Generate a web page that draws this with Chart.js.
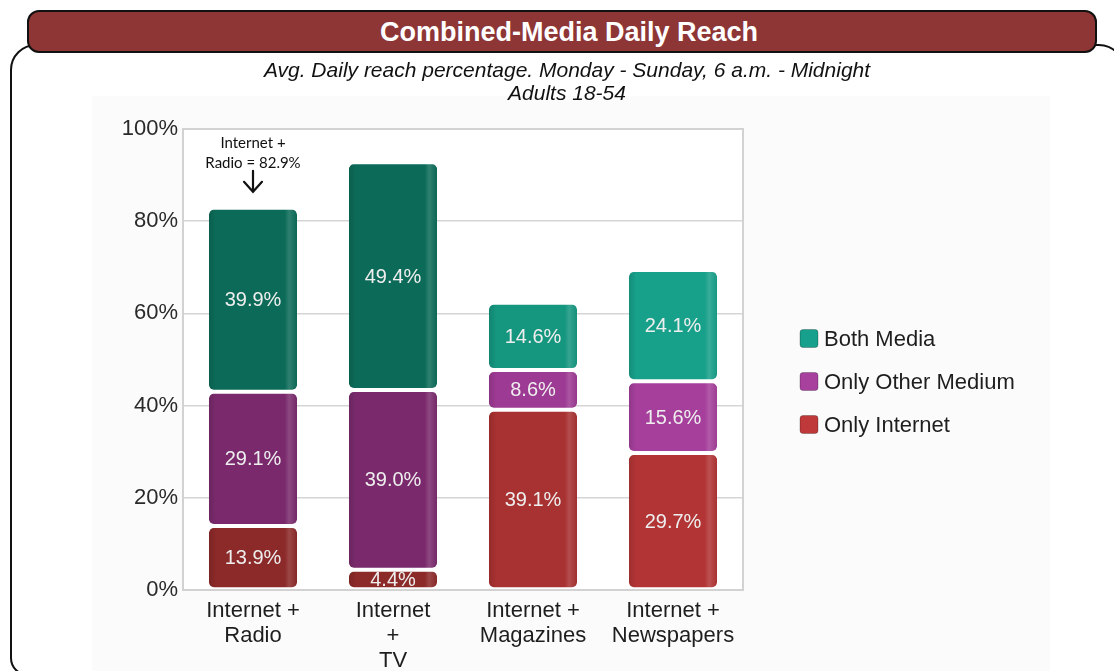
<!DOCTYPE html>
<html>
<head>
<meta charset="utf-8">
<title>Combined-Media Daily Reach</title>
<script src="https://cdn.jsdelivr.net/npm/chart.js@4.4.1/dist/chart.umd.min.js"></script>
<style>
  html, body { margin: 0; padding: 0; background: #fff; width: 1114px; height: 671px; overflow: hidden;
    font-family: 'Liberation Sans', Arial, sans-serif; }
  #frame { position: absolute; left: 10px; top: 44px; width: 1111px; height: 628px;
    border: 2px solid #111; border-radius: 26px 26px 18px 18px; }
  #panel { position: absolute; left: 92px; top: 96px; width: 958px; height: 580px; background: #fbfbfb; }
  #banner { position: absolute; left: 27px; top: 10px; width: 1052px; height: 39px; background: #8e3535;
    border: 2px solid #111; border-radius: 12px; color: #fff; font-weight: bold; font-size: 27px;
    line-height: 40px; text-align: center; padding-left: 14px; }
  #sub { position: absolute; left: 0; top: 58px; width: 1134px; text-align: center; font-style: italic;
    font-size: 21px; line-height: 23px; color: #111; }
  #chart { position: absolute; left: 12px; top: 55px; }
</style>
</head>
<body>
<div id="frame"></div>
<div id="panel"></div>
<canvas id="chart" width="1110" height="616"></canvas>
<div id="banner">Combined-Media Daily Reach</div>
<div id="sub">Avg. Daily reach percentage. Monday - Sunday, 6 a.m. - Midnight<br>Adults 18-54</div>
<script>
// Media pairings along the x axis
const categories = [
  ['Internet +', 'Radio'],
  ['Internet', '+', 'TV'],
  ['Internet +', 'Magazines'],
  ['Internet +', 'Newspapers']
];
// Daily reach (%) per segment, bottom to top of each stack
const onlyInternet = [13.9, 4.4, 39.1, 29.7];
const onlyOtherMedium = [29.1, 39.0, 8.6, 15.6];
const bothMedia = [39.9, 49.4, 14.6, 24.1];
const seriesNames = ['Only Internet', 'Only Other Medium', 'Both Media'];
const yTicks = [0, 20, 40, 60, 80, 100];

const FONT = "'Liberation Sans', Arial, sans-serif";
const BAR_PCT = 0.63;
const PLOT_BG = '#ffffff';

// Per-bar fills (first two pairings are rendered in deeper tones)
const palettes = {
  internet: ['#8c2929', '#8c2929', '#a83131', '#b23435'],
  other:    ['#7a2a6c', '#7a2a6c', '#9d3a93', '#a53f9b'],
  both:     ['#0c6b58', '#0c6b58', '#15967f', '#17a08a']
};
const legendColors = ['#c0393a', '#a8409e', '#17a08b'];

function shade(hex, amt) {
  const n = parseInt(hex.slice(1), 16);
  let r = (n >> 16) & 255, g = (n >> 8) & 255, b = n & 255;
  const f = c => Math.max(0, Math.min(255, Math.round(amt >= 0 ? c + (255 - c) * amt : c * (1 + amt))));
  return 'rgb(' + f(r) + ',' + f(g) + ',' + f(b) + ')';
}

// Horizontal gradient giving each bar a soft cylindrical sheen
function barFill(palette) {
  return ctx => {
    const i = ctx.dataIndex ?? 0;
    const base = palette[i];
    const chart = ctx.chart;
    const xs = chart.scales && chart.scales.x;
    if (!chart.chartArea || !xs || ctx.type !== 'data') return base;
    const cx = xs.getPixelForValue(i);
    const w = (xs.right - xs.left) / categories.length * BAR_PCT;
    const g = chart.ctx.createLinearGradient(cx - w / 2, 0, cx + w / 2, 0);
    g.addColorStop(0, shade(base, -0.12));
    g.addColorStop(0.08, base);
    g.addColorStop(0.86, base);
    g.addColorStop(0.91, shade(base, 0.14));
    g.addColorStop(1, shade(base, -0.05));
    return g;
  };
}

const segStyle = {
  borderColor: PLOT_BG,
  borderWidth: { top: 2, bottom: 2, left: 0, right: 0 },
  borderSkipped: false,
  borderRadius: { topLeft: 7, topRight: 7, bottomLeft: 7, bottomRight: 7 },
  barPercentage: BAR_PCT,
  categoryPercentage: 1
};

const plotFrame = {
  id: 'plotFrame',
  beforeDraw(chart) {
    const { ctx, chartArea: a } = chart;
    ctx.save();
    ctx.fillStyle = PLOT_BG;
    ctx.fillRect(a.left, a.top, a.right - a.left, a.bottom - a.top);
    ctx.restore();
  },
  beforeDatasetsDraw(chart) {
    const { ctx, chartArea: a } = chart;
    ctx.save();
    ctx.strokeStyle = '#d2d2d2';
    ctx.lineWidth = 2;
    ctx.strokeRect(a.left, a.top, a.right - a.left, a.bottom - a.top);
    ctx.restore();
  }
};

const segmentLabels = {
  id: 'segmentLabels',
  afterDatasetsDraw(chart) {
    const ctx = chart.ctx;
    ctx.save();
    ctx.font = '20px ' + FONT;
    ctx.fillStyle = '#eeeeee';
    ctx.textAlign = 'center';
    ctx.textBaseline = 'middle';
    chart.data.datasets.forEach((ds, di) => {
      chart.getDatasetMeta(di).data.forEach((el, i) => {
        const p = el.getCenterPoint();
        ctx.fillText(ds.data[i].toFixed(1) + '%', p.x, p.y + 1);
      });
    });
    ctx.restore();
  }
};

const radioCallout = {
  id: 'radioCallout',
  afterDatasetsDraw(chart) {
    const ctx = chart.ctx;
    const total = onlyInternet[0] + onlyOtherMedium[0] + bothMedia[0];
    const x = chart.scales.x.getPixelForValue(0);
    const top = chart.scales.y.getPixelForValue(total);
    ctx.save();
    ctx.fillStyle = '#111';
    ctx.font = "15px Lato, 'Open Sans', sans-serif";
    ctx.textAlign = 'center';
    ctx.textBaseline = 'middle';
    ctx.fillText('Internet +', x, top - 65);
    ctx.fillText('Radio = ' + total.toFixed(1) + '%', x, top - 45);
    ctx.strokeStyle = '#111';
    ctx.lineWidth = 2.2;
    ctx.lineCap = 'round';
    ctx.beginPath();
    ctx.moveTo(x, top - 37);
    ctx.lineTo(x, top - 16);
    ctx.moveTo(x - 9, top - 26);
    ctx.lineTo(x, top - 16);
    ctx.lineTo(x + 9, top - 26);
    ctx.stroke();
    ctx.restore();
  }
};

const sideLegend = {
  id: 'sideLegend',
  afterDraw(chart) {
    const ctx = chart.ctx;
    const a = chart.chartArea;
    const x = a.right + 57;
    const midY = (a.top + a.bottom) / 2 + 22;
    const order = [2, 1, 0];
    ctx.save();
    ctx.font = '22px ' + FONT;
    ctx.textBaseline = 'middle';
    order.forEach((di, k) => {
      const y = midY + (k - 1) * 43;
      ctx.fillStyle = legendColors[di];
      ctx.beginPath();
      ctx.roundRect(x, y - 9, 18, 18, 3);
      ctx.fill();
      ctx.strokeStyle = 'rgba(0,0,0,0.25)';
      ctx.lineWidth = 1;
      ctx.stroke();
      ctx.fillStyle = '#1e1e1e';
      ctx.fillText(chart.data.datasets[di].label, x + 24, y + 1);
    });
    ctx.restore();
  }
};

const chart = new Chart(document.getElementById('chart'), {
  type: 'bar',
  data: {
    labels: categories,
    datasets: [
      Object.assign({ label: seriesNames[0], data: onlyInternet, backgroundColor: barFill(palettes.internet) }, segStyle),
      Object.assign({ label: seriesNames[1], data: onlyOtherMedium, backgroundColor: barFill(palettes.other) }, segStyle),
      Object.assign({ label: seriesNames[2], data: bothMedia, backgroundColor: barFill(palettes.both) }, segStyle)
    ]
  },
  options: {
    responsive: false,
    animation: false,
    devicePixelRatio: 1,
    layout: { padding: { left: 101, right: 379, top: 74, bottom: 0 } },
    plugins: {
      legend: { display: false },
      title: { display: false },
      tooltip: { enabled: false }
    },
    scales: {
      x: {
        stacked: true,
        grid: { display: false },
        border: { display: false },
        ticks: { color: '#1e1e1e', font: { size: 22, family: FONT, lineHeight: 1.13 }, padding: 1,
          maxRotation: 0, autoSkip: false },
        afterFit: s => { s.height = 81; }
      },
      y: {
        stacked: true,
        min: 0,
        max: 100,
        afterBuildTicks: s => { s.ticks = yTicks.map(v => ({ value: v })); },
        ticks: { callback: v => v + '%', color: '#2a2a2a', font: { size: 22, family: FONT }, padding: 5 },
        grid: { color: '#d5d5d5', lineWidth: 1.5, drawTicks: false },
        border: { display: false },
        afterFit: s => { s.width = 70; }
      }
    }
  },
  plugins: [plotFrame, segmentLabels, radioCallout, sideLegend]
});
chart.update();
</script>
</body>
</html>
